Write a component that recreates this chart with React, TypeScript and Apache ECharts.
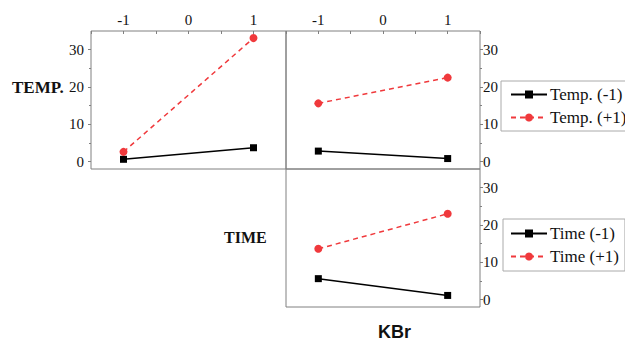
import React, { useEffect, useRef } from "react";
import * as echarts from "echarts";

// Factor levels on the x axes
const xLevels = [-1, 1];
const xTickLabels = ["-1", "0", "1"];
const yTickValues = [0, 10, 20, 30];
const yMinorValues = [5, 15, 25];

// Row TEMP, left panel
const panelA_low = [0.6, 3.7];
const panelA_high = [2.6, 33.1];
// Row TEMP, right panel (KBr)
const panelB_low = [2.8, 0.8];
const panelB_high = [15.6, 22.5];
// Row TIME, KBr panel
const panelC_low = [5.6, 1.1];
const panelC_high = [13.6, 23.0];

const rowLabels = ["TEMP.", "TIME"];
const colLabel = "KBr";
const tempNames = ["Temp. (-1)", "Temp. (+1)"];
const timeNames = ["Time (-1)", "Time (+1)"];

const SERIF = "'Liberation Serif', 'DejaVu Serif', serif";
const SANS = "'Liberation Sans', Arial, sans-serif";
const AXIS_COLOR = "#808080";
const RED = "#f0393c";

const pts = (vals: number[]) => xLevels.map((x, i) => [x, vals[i]]);

export default function App() {
  const ref = useRef<HTMLDivElement>(null);
  useEffect(() => {
    if (!ref.current) return;
    const chart = echarts.init(ref.current, null, { renderer: "svg" });

    const grids = [
      { left: 91, top: 31, width: 195, height: 138 },
      { left: 286, top: 31, width: 194, height: 138 },
      { left: 286, top: 169, width: 194, height: 138 },
    ].map((g) => ({
      ...g,
      show: true,
      borderColor: AXIS_COLOR,
      borderWidth: 1,
      backgroundColor: "transparent",
    }));

    const xAxisBase = (gi: number, showLabels: boolean) => ({
      type: "value",
      gridIndex: gi,
      position: "top",
      min: -1.5,
      max: 1.5,
      interval: 0.5,
      axisLine: { show: false, onZero: false },
      splitLine: { show: false },
      axisTick: {
        show: showLabels,
        inside: true,
        length: 3,
        lineStyle: { color: AXIS_COLOR },
      },
      axisLabel: {
        show: showLabels,
        margin: 4,
        fontFamily: SERIF,
        fontSize: 15,
        color: "#111",
        formatter: (v: number) => {
          const idx = [-1, 0, 1].indexOf(v);
          return idx >= 0 ? xTickLabels[idx] : "";
        },
      },
    });

    const yAxisMain = (gi: number, pos: string, showLabels: boolean) => ({
      type: "value",
      gridIndex: gi,
      position: pos,
      min: -2,
      max: 35,
      axisLine: { show: false, onZero: false },
      splitLine: { show: false },
      axisTick: {
        show: showLabels,
        length: 3,
        customValues: yTickValues,
        lineStyle: { color: AXIS_COLOR },
      },
      axisLabel: {
        show: showLabels,
        customValues: yTickValues,
        margin: pos === "left" ? 7 : 3,
        fontFamily: SERIF,
        fontSize: 15,
        color: "#111",
      },
    });

    const yAxisMinor = (gi: number, pos: string) => ({
      type: "value",
      gridIndex: gi,
      position: pos,
      offset: 0,
      min: -2,
      max: 35,
      axisLine: { show: false, onZero: false },
      splitLine: { show: false },
      axisTick: {
        show: true,
        length: 2,
        customValues: yMinorValues,
        lineStyle: { color: AXIS_COLOR },
      },
      axisLabel: { show: false },
    });

    const lowSeries = (name: string, gi: number, vals: number[]) => ({
      type: "line",
      name,
      xAxisIndex: gi,
      yAxisIndex: gi,
      data: pts(vals),
      symbol: "rect",
      symbolSize: 7,
      itemStyle: { color: "#000" },
      lineStyle: { color: "#000", width: 1.5, type: "solid" },
    });
    const highSeries = (name: string, gi: number, vals: number[]) => ({
      type: "line",
      name,
      xAxisIndex: gi,
      yAxisIndex: gi,
      data: pts(vals),
      symbol: "circle",
      symbolSize: 8,
      itemStyle: { color: RED },
      lineStyle: { color: RED, width: 1.5, type: [5, 4] },
    });

    const legendBase = {
      orient: "vertical",
      borderColor: "#aaa",
      borderWidth: 1,
      borderRadius: 0,
      itemWidth: 36,
      itemHeight: 10,
      itemGap: 6,
      textStyle: { fontFamily: SERIF, fontSize: 17, color: "#111", padding: [0, 0, 0, -2] },
      selectedMode: false,
    };

    chart.setOption({
      animation: false,
      backgroundColor: "#fff",
      grid: grids,
      xAxis: [xAxisBase(0, true), xAxisBase(1, true), xAxisBase(2, false)],
      yAxis: [
        yAxisMain(0, "left", true),
        yAxisMain(1, "right", true),
        yAxisMain(2, "right", true),
        yAxisMinor(0, "left"),
        yAxisMinor(1, "right"),
        yAxisMinor(2, "right"),
      ],
      legend: [
        {
          ...legendBase,
          data: tempNames,
          left: 501,
          top: 81,
          padding: [5, 10, 5, 9],
        },
        {
          ...legendBase,
          data: timeNames,
          left: 503,
          top: 219,
          padding: [6, 6, 6, 7],
        },
      ],
      series: [
        lowSeries(tempNames[0], 0, panelA_low),
        highSeries(tempNames[1], 0, panelA_high),
        lowSeries(tempNames[0], 1, panelB_low),
        highSeries(tempNames[1], 1, panelB_high),
        lowSeries(timeNames[0], 2, panelC_low),
        highSeries(timeNames[1], 2, panelC_high),
      ],
      graphic: [
        {
          type: "text",
          left: 12,
          top: 79,
          style: { text: rowLabels[0], fontFamily: SERIF, fontWeight: "bold", fontSize: 17, fill: "#111" },
        },
        {
          type: "text",
          left: 224,
          top: 229,
          style: { text: rowLabels[1], fontFamily: SERIF, fontWeight: "bold", fontSize: 16, fill: "#111" },
        },
        {
          type: "text",
          left: 378,
          top: 323,
          style: { text: colLabel, fontFamily: SANS, fontWeight: "bold", fontSize: 18, fill: "#111" },
        },
      ],
    });
    return () => chart.dispose();
  }, []);
  return <div ref={ref} style={{ width: 625, height: 344, position: "absolute", left: 0, top: 0 }} />;
}
